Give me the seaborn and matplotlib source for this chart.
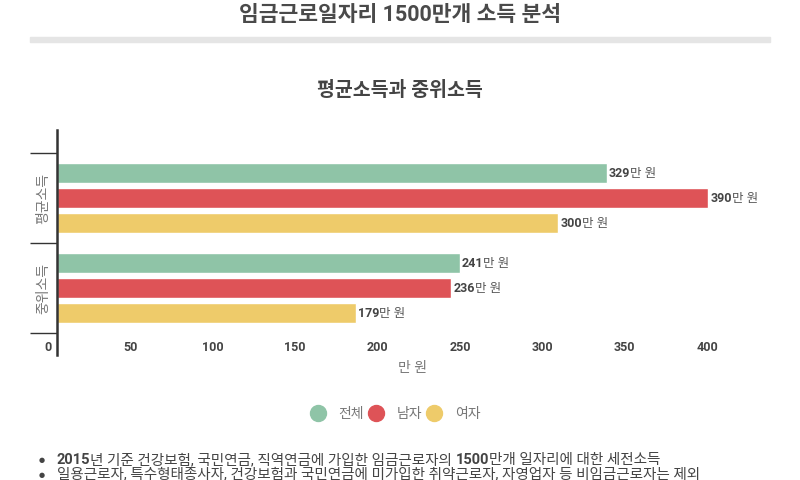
import matplotlib
matplotlib.use('Agg')
import matplotlib.pyplot as plt
import matplotlib.transforms as mtrans
from matplotlib.lines import Line2D
import seaborn as sns
import pandas as pd

# ---- data ----
categories = ['평균소득', '중위소득']
groups = ['전체', '남자', '여자']
total = [329, 241]
male = [390, 236]
female = [300, 179]
x_ticks = [0, 50, 100, 150, 200, 250, 300, 350, 400]
colors = ['#8fc4a7', '#de5357', '#eecb6a']

title = '임금근로일자리 1500만개 소득 분석'
subtitle = '평균소득과 중위소득'
x_label = '만 원'
unit = '만 원'
notes = [
    [('2015', 'bold'), ('년 기준 건강보험, 국민연금, 직역연금에 가입한 임금근로자의', 'normal'), (' ', 'normal'),
     ('1500', 'bold'), ('만개 일자리에 대한 세전소득', 'normal')],
    [('일용근로자, 특수형태종사자, 건강보험과 국민연금에 미가입한 취약근로자, 자영업자 등 비임금근로자는 제외', 'normal')],
]

rows = []
for ci, c in enumerate(categories):
    for g, vals in zip(groups, [total, male, female]):
        rows.append({'구분': c, '성별': g, '소득': vals[ci]})
df = pd.DataFrame(rows)

sns.set_theme(style='white')
plt.rcParams['font.family'] = ['Roboto', 'Noto Sans CJK KR', 'DejaVu Sans']
plt.rcParams['axes.unicode_minus'] = False

W, H = 800, 480
fig = plt.figure(figsize=(8, 4.8), dpi=100)

def fx(px):
    return px / W

def fy(py):
    return 1 - py / H

ax = fig.add_axes([fx(57), fy(355), fx(792) - fx(57), fy(130) - fy(355)])

sns.barplot(data=df, y='구분', x='소득', hue='성별', order=categories, hue_order=groups,
            palette=colors, width=0.833, gap=0.2, orient='h', legend=False,
            saturation=1, ax=ax, errorbar=None)

ax.set_xlim(0, 440)
ax.set_ylim(1.744, -0.756)
for s in ['top', 'right', 'bottom']:
    ax.spines[s].set_visible(False)
ax.spines['left'].set_color('#333333')
ax.spines['left'].set_linewidth(1.8)

# y ticks: group boundary marks and centred rotated labels
ax.set_yticks([-0.5, 0.5, 1.5])
ax.set_yticklabels(['', '', ''])
ax.tick_params(axis='y', which='major', left=True, length=19.5, width=1, color='#333333', direction='out')
ax.set_yticks([0, 1], minor=True)
ax.set_yticklabels(categories, minor=True, rotation=90, va='center', fontsize=10, color='#777777')
ax.tick_params(axis='y', which='minor', left=True, length=0, pad=5)

# x ticks
ax.set_xticks(x_ticks)
ax.set_xticklabels([str(t) for t in x_ticks], fontsize=9, fontweight='bold', color='#444444')
ax.tick_params(axis='x', length=0, pad=0)
for t, lab in zip(x_ticks, ax.get_xticklabels()):
    dx = -9 - 9 * t / 400
    off = mtrans.ScaledTranslation(dx / 100, 14 / 100, fig.dpi_scale_trans)
    lab.set_transform(lab.get_transform() + off)
ax.set_xlabel(x_label, fontsize=10, color='#777777', va='center')
ax.xaxis.set_label_coords((413 - 57) / 735, (355 - 368) / 225)
ax.set_ylabel('')
ax.grid(False)

fig.canvas.draw()
renderer = fig.canvas.get_renderer()

# value labels
for cont, vals in zip(ax.containers, [total, male, female]):
    for bar, v in zip(cont.patches, vals):
        yc = bar.get_y() + bar.get_height() / 2
        xe = bar.get_x() + bar.get_width()
        t1 = ax.annotate(str(v), (xe, yc), xytext=(2, 0), textcoords='offset pixels',
                         va='center', ha='left', fontsize=9, fontweight='bold', color='#444444')
        bb = t1.get_window_extent(renderer)
        ax.annotate(unit, (xe, yc), xytext=(2 + bb.width, 0), textcoords='offset pixels',
                    va='center', ha='left', fontsize=9, color='#555555')

# title and separator
fig.text(0.5, fy(15), title, ha='center', va='center', fontsize=15.5, fontweight='bold', color='#4a4a4a')
fig.patches.append(plt.Rectangle((fx(30), fy(42)), fx(770) - fx(30), fy(37) - fy(42),
                                 transform=fig.transFigure, color='#e5e5e5', zorder=0))
fig.text(0.5, fy(90), subtitle, ha='center', va='center', fontsize=14, fontweight='bold', color='#444444')

# legend
handles = [Line2D([0], [0], marker='o', linestyle='', markersize=11.5, markerfacecolor=c,
                  markeredgecolor=c) for c in colors]
fig.legend(handles, groups, loc='center', bbox_to_anchor=(fx(395), fy(414)), ncol=3, frameon=False,
           fontsize=10, labelcolor='#777777', handletextpad=0.85, columnspacing=0.3,
           handlelength=1.2)

# footnotes
def rich(x, y, parts, size=10.5, color='#444444'):
    for s, w in parts:
        t = fig.text(fx(x), fy(y), s, ha='left', va='center', fontsize=size, fontweight=w, color=color)
        x += t.get_window_extent(renderer).width

for i, parts in enumerate(notes):
    y = 460 + i * 14.5
    fig.text(fx(42), fy(y), '●', ha='center', va='center', fontsize=5, color='#444444',
             family=['DejaVu Sans'])
    rich(57, y, parts)

fig.savefig('out.png', dpi=100)
